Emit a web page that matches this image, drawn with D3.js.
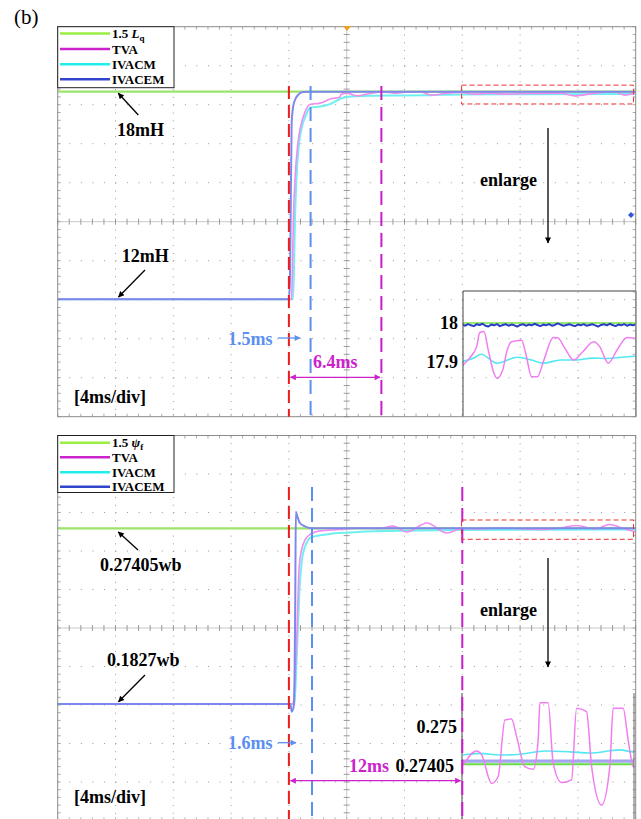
<!DOCTYPE html>
<html><head><meta charset="utf-8">
<script src="https://cdn.jsdelivr.net/npm/d3@7"></script>
<style>
body{margin:0;background:#fff}
svg{display:block}
text{font-family:"Liberation Serif","Times New Roman",serif}
</style>
</head><body><div id="chart"></div>
<script>
// ---------------- DATA ----------------
const legendNames = ["1.5 L", "TVA", "IVACM", "IVACEM"];
const timeDomain = [0, 40];            // ms, 4 ms/div
const eventTimes = {step: 16, topBlue: 17.5, topMag: 22.4, botBlue: 17.6, botMag: 28};

// top panel (inductance, mH)
const topLq = [[0,18],[40,18]];
const topIVACEM = [[0,12],[16.0,12],[16.07,12.56],[16.12,14.29],[16.19,17.09],[16.28,17.53],[16.42,17.76],[16.62,17.90],[16.97,17.99],[17.5,18.0],[40,18.0]];
const topTVA = [[0,12],[16.19,12],[16.24,12.85],[16.31,14.29],[16.42,15.45],[16.62,16.51],[16.83,17.03],[17.11,17.41],[17.45,17.63],[18.15,17.67],[18.49,17.72],[18.84,17.79],[19.53,17.84],[19.6,17.92],[20.01,17.96],[20.71,17.88],[21.60,17.95],[22.50,17.99],[23.34,17.96],[24.37,17.99],[25.07,18.0],[25.90,17.90],[26.80,17.95],[27.84,17.98],[28.87,17.93],[29.91,17.96],[30.95,17.93],[32.68,17.95],[34.76,17.96],[35.80,17.88],[37.17,17.96],[38.56,17.99],[39.25,17.90],[40,17.96]];
const topIVACM = [[0,12],[16.28,12],[16.35,12.85],[16.42,14.29],[16.52,15.45],[16.69,16.46],[16.90,16.98],[17.18,17.32],[17.45,17.53],[18.15,17.57],[18.84,17.64],[19.53,17.79],[20.01,17.85],[21.6,17.88],[23.7,17.89],[25.76,17.90],[27.97,17.92],[40,17.93]];
// top inset (enlarged)
const insTopLq = [[28,18.0],[40,18.0]];
const insTopTVA = [[28.0,17.89],[28.5,17.91],[29.0,17.94],[29.2,17.975],[29.5,17.978],[29.8,17.93],[30.2,17.87],[30.4,17.858],[30.8,17.88],[31.1,17.93],[31.4,17.952],[32.1,17.956],[32.4,17.92],[32.8,17.862],[33.2,17.862],[33.6,17.90],[34.3,17.963],[34.6,17.962],[35.1,17.935],[35.7,17.905],[36.3,17.925],[37.1,17.952],[37.5,17.94],[38.1,17.897],[38.7,17.93],[39.4,17.963],[40,17.96]];
const insTopIVACM = [[28.0,17.901],[28.8,17.91],[29.3,17.92],[30.4,17.897],[31.8,17.912],[32.8,17.905],[33.6,17.897],[34.8,17.905],[35.9,17.905],[37.0,17.91],[38.0,17.909],[39.0,17.912],[40,17.915]];
const insTopIVACEM = [[28.0,17.996],[28.2,17.993],[28.4,17.997],[28.6,17.994],[28.8,17.992],[29.0,17.997],[29.2,17.995],[29.4,17.998],[29.6,17.993],[29.8,17.991],[30.0,17.996],[30.2,17.994],[30.4,17.997],[30.6,17.992],[30.8,17.995],[31.0,17.997],[31.2,17.993],[31.4,17.996],[31.6,17.994],[31.8,17.991],[32.0,17.995],[32.2,17.997],[32.4,17.993],[32.6,17.996],[32.8,17.994],[33.0,17.998],[33.2,17.995],[33.4,17.992],[33.6,17.996],[33.8,17.994],[34.0,17.997],[34.2,17.993],[34.4,17.995],[34.6,17.999],[34.8,17.996],[35.0,17.993],[35.2,17.995],[35.4,17.997],[35.6,17.994],[35.8,17.992],[36.0,17.996],[36.2,17.994],[36.4,17.997],[36.6,17.993],[36.8,17.995],[37.0,17.997],[37.2,17.994],[37.4,17.991],[37.6,17.995],[37.8,17.997],[38.0,17.994],[38.2,17.998],[38.4,17.995],[38.6,17.992],[38.8,17.996],[39.0,17.994],[39.2,17.997],[39.4,17.993],[39.6,17.996],[39.8,17.994],[40.0,17.996]];

// bottom panel (flux linkage, wb)
const botPsi = [[0,0.27405],[40,0.27405]];
const botIVACEM = [[0,0.1827],[16.1,0.1827],[16.2,0.1787],[16.35,0.1822],[16.44,0.2372],[16.48,0.2827],[16.55,0.2810],[16.76,0.2768],[17.04,0.2753],[17.45,0.2742],[18.0,0.27405],[40,0.27405]];
const botTVA = [[0,0.1827],[16.28,0.1827],[16.38,0.1900],[16.48,0.2056],[16.57,0.2229],[16.71,0.2541],[16.88,0.2628],[17.11,0.2680],[17.52,0.2711],[18.15,0.2727],[19.53,0.2734],[20.91,0.2742],[22.30,0.2740],[23.20,0.2752],[24.17,0.2721],[25.55,0.2768],[26.93,0.2716],[27.97,0.2740],[29.2,0.2737],[30.6,0.2742],[33.4,0.2734],[34.8,0.2742],[35.9,0.2755],[37.2,0.2737],[38.2,0.2760],[39.25,0.2737],[40,0.2721]];
const botIVACM = [[0,0.1827],[16.38,0.1827],[16.48,0.1951],[16.59,0.2159],[16.73,0.2419],[16.90,0.2575],[17.11,0.2643],[17.57,0.2695],[18.84,0.2711],[19.99,0.2718],[22.5,0.2727],[25.07,0.2729],[27.97,0.2732],[40,0.2734]];
// bottom inset (enlarged)
const insBotPsi = [[28,0.27405],[40,0.27405]];
const insBotIVACEM = [[28,0.27413],[40,0.27413]];
const insBotTVA = [[28.06,0.27403],[28.99,0.27439],[29.34,0.27429],[30.03,0.27356],[30.48,0.27373],[30.95,0.27519],[31.41,0.27521],[31.76,0.27476],[32.33,0.27399],[32.91,0.27392],[33.25,0.27467],[33.37,0.27563],[33.94,0.27563],[34.29,0.27408],[34.87,0.27358],[35.56,0.27365],[35.91,0.27549],[36.60,0.27540],[36.95,0.27399],[37.64,0.27300],[38.21,0.27399],[38.44,0.27549],[39.13,0.27549],[39.48,0.27467],[39.83,0.27399],[40,0.27395]];
const insBotIVACM = [[28.04,0.27429],[29.21,0.27433],[30.60,0.27429],[31.99,0.27431],[33.71,0.27439],[35.44,0.27437],[36.83,0.27434],[38.91,0.27442],[39.81,0.27437],[40,0.27437]];

// ---------------- DRAW ----------------
const W = 641, H = 819;
const svg = d3.select("#chart").append("svg").attr("width", W).attr("height", H);
const defs = svg.append("defs");
function marker(id, color){
  defs.append("marker").attr("id", id).attr("viewBox","0 0 10 10").attr("refX",9).attr("refY",5)
    .attr("markerWidth",8).attr("markerHeight",6).attr("markerUnits","userSpaceOnUse")
    .attr("orient","auto-start-reverse")
    .append("path").attr("d","M0,0 L10,5 L0,10 Z").attr("fill", color);
}
marker("arK","#000"); marker("arB","#5b8ff0"); marker("arM","#cc22cc");

const x = d3.scaleLinear().domain(timeDomain).range([57.7, 635.7]);
const COL = {green:"#9be36b", tva:"#f08cf0", ivacm:"#6ff0f0", ivacem:"#7d88ea"};
const LEG = {green:"#99ee44", tva:"#cc22cc", ivacm:"#22eeee", ivacem:"#3344cc"};

function grid(g, L, T, R, B){
  const dx = (R-L)/10, dy = (B-T)/10;
  for(let i=1;i<10;i++){
    if(i===5) continue;
    g.append("line").attr("x1",L+i*dx).attr("x2",L+i*dx).attr("y1",T).attr("y2",B)
      .attr("stroke","#9a9a9a").attr("stroke-width",1).attr("stroke-dasharray",`1 ${dy/5-1}`);
    g.append("line").attr("y1",T+i*dy).attr("y2",T+i*dy).attr("x1",L).attr("x2",R)
      .attr("stroke","#9a9a9a").attr("stroke-width",1).attr("stroke-dasharray",`1 ${dx/5-1}`);
  }
  const cx = L+5*dx, cy = T+5*dy;
  g.append("line").attr("x1",cx).attr("x2",cx).attr("y1",T).attr("y2",B).attr("stroke","#c8c8c8");
  g.append("line").attr("x1",L).attr("x2",R).attr("y1",cy).attr("y2",cy).attr("stroke","#c8c8c8");
  for(let k=0;k<=50;k++){
    const yy = T+k*dy/5, xx = L+k*dx/5;
    g.append("line").attr("x1",cx-3).attr("x2",cx+3).attr("y1",yy).attr("y2",yy).attr("stroke","#999");
    g.append("line").attr("x1",xx).attr("x2",xx).attr("y1",cy-3).attr("y2",cy+3).attr("stroke","#999");
    g.append("line").attr("x1",L).attr("x2",L+3).attr("y1",yy).attr("y2",yy).attr("stroke","#aaa");
    g.append("line").attr("x1",R-3).attr("x2",R).attr("y1",yy).attr("y2",yy).attr("stroke","#aaa");
    g.append("line").attr("x1",xx).attr("x2",xx).attr("y1",T).attr("y2",T+3).attr("stroke","#aaa");
    g.append("line").attr("x1",xx).attr("x2",xx).attr("y1",B-3).attr("y2",B).attr("stroke","#aaa");
  }
}

function clip(id, x0, y0, w, h){
  defs.append("clipPath").attr("id", id).append("rect").attr("x",x0).attr("y",y0).attr("width",w).attr("height",h);
  return `url(#${id})`;
}

function drawLine(g, data, y, color, width, curve){
  g.append("path").datum(data)
    .attr("d", d3.line().x(d=>x(d[0])).y(d=>y(d[1])).curve(curve || d3.curveMonotoneX))
    .attr("fill","none").attr("stroke",color).attr("stroke-width",width)
    .attr("stroke-linejoin","round");
}

function txt(t, xx, yy, opt={}){
  const e = svg.append("text").attr("x",xx).attr("y",yy).text(t)
    .attr("font-size", opt.size||18).attr("font-weight", opt.weight||"bold")
    .attr("fill", opt.color||"#000");
  if(opt.anchor) e.attr("text-anchor", opt.anchor);
  return e;
}
function arrow(x1,y1,x2,y2,color,mk,both){
  const l = svg.append("line").attr("x1",x1).attr("y1",y1).attr("x2",x2).attr("y2",y2)
    .attr("stroke",color).attr("stroke-width",1.3).attr("marker-end",`url(#${mk})`);
  if(both) l.attr("marker-start",`url(#${mk})`);
}

function panel(cfg){
  const L = 57.7, R = 635.7, T = cfg.top, B = cfg.bottom;
  const g = svg.append("g");
  g.append("rect").attr("x",L).attr("y",T).attr("width",R-L).attr("height",B-T).attr("fill","#fff");
  grid(g, L, T, R, B);
  const lines = g.append("g").attr("clip-path", clip(cfg.id+"c", L, T, R-L, B-T));
  drawLine(lines, cfg.green, cfg.y, COL.green, 2.2, d3.curveLinear);
  drawLine(lines, cfg.ivacm, cfg.y, COL.ivacm, 2);
  drawLine(lines, cfg.tva, cfg.y, COL.tva, 1.6);
  drawLine(lines, cfg.ivacem, cfg.y, COL.ivacem, 2);

  // inset
  const I = cfg.inset;
  const ig = g.append("g").attr("clip-path", clip(cfg.id+"i", I.x0, I.y0, I.x1-I.x0, I.y1-I.y0));
  ig.append("rect").attr("x",I.x0).attr("y",I.y0).attr("width",I.x1-I.x0).attr("height",I.y1-I.y0).attr("fill","#fff");
  grid(ig, L, T, R, B);
  drawLine(ig, I.green, I.y, I.greenCol, 2, d3.curveLinear);
  drawLine(ig, I.ivacm, I.y, "#55e8f2", 1.6);
  drawLine(ig, I.ivacem, I.y, I.blueCol, I.blueW, d3.curveLinear);
  drawLine(ig, I.tva, I.y, "#f07ef0", 1.5);
  g.append("line").attr("x1",I.x0).attr("x2",I.x0).attr("y1",I.y0).attr("y2",I.y1).attr("stroke","#444");
  g.append("line").attr("x1",I.x1).attr("x2",I.x1).attr("y1",I.y0).attr("y2",I.y1).attr("stroke","#666");
  if(I.topBorder) g.append("line").attr("x1",I.x0).attr("x2",I.x1).attr("y1",I.y0).attr("y2",I.y0).attr("stroke","#444");

  // frame
  g.append("rect").attr("x",L).attr("y",T).attr("width",R-L).attr("height",B-T)
    .attr("fill","none").attr("stroke","#8a8a8a");

  // dashed markers
  const dv = (t, color, dash) => g.append("line").attr("x1",x(t)).attr("x2",x(t))
    .attr("y1",cfg.dashTop).attr("y2",Math.min(B,H)).attr("stroke",color).attr("stroke-width",2)
    .attr("stroke-dasharray",dash);
  dv(cfg.tRed, "#ee1c1c", "13 6");
  dv(cfg.tBlue, "#5b8ff0", "14 7");
  dv(cfg.tMag, "#c81ec8", "14 7");

  // red dashed box
  const bx = cfg.box;
  g.append("rect").attr("x",x(bx[0])).attr("y",cfg.y(bx[2])).attr("width",x(bx[1])-x(bx[0]))
    .attr("height",cfg.y(bx[3])-cfg.y(bx[2])).attr("fill","none").attr("stroke","#ee3030")
    .attr("stroke-width",1).attr("stroke-dasharray","5 3");

  // legend
  const lg = cfg.legend;
  g.append("rect").attr("x",L).attr("y",T).attr("width",116.3).attr("height",lg.h)
    .attr("fill","#fff").attr("stroke","#222").attr("stroke-width",1);
  const lc = [LEG.green, LEG.tva, LEG.ivacm, LEG.ivacem];
  lg.rows.forEach((ry,i)=>{
    g.append("line").attr("x1",60).attr("x2",110).attr("y1",ry).attr("y2",ry).attr("stroke",lc[i]).attr("stroke-width",2.4);
    const t = g.append("text").attr("x",112).attr("y",ry+4.5).attr("font-size",13).attr("font-weight","bold");
    if(i===0){
      t.append("tspan").text("1.5 ");
      t.append("tspan").text(lg.sym).attr("font-style","italic");
      t.append("tspan").text(lg.sub).attr("font-size",9).attr("dy",3);
    } else t.text(legendNames[i]);
  });
}

// (b)
txt("(b)", 14, 24, {size:21, weight:"normal"});

// ---------- top panel ----------
const yTop = d3.scaleLinear().domain([12,18]).range([299.3,91.7]);
const yTopIns = d3.scaleLinear().domain([17.9,18]).range([362,323]);
panel({id:"p1", top:26.7, bottom:416.7, y:yTop,
  green:topLq, tva:topTVA, ivacm:topIVACM, ivacem:topIVACEM,
  tRed:eventTimes.step, tBlue:eventTimes.topBlue, tMag:eventTimes.topMag, dashTop:86,
  box:[27.95,39.85,18.19,17.645],
  legend:{h:61, rows:[33.5,49,64.3,79.3], sym:"L", sub:"q"},
  inset:{x0:463, x1:636, y0:291, y1:416.7, y:yTopIns, green:insTopLq, tva:insTopTVA, ivacm:insTopIVACM,
    ivacem:insTopIVACEM, greenCol:"#9be870", blueCol:"#2a3ec4", blueW:2, topBorder:true}
});
// orange / blue scope markers
svg.append("path").attr("d","M343,26 L351,26 L347,31 Z").attr("fill","#f0a020");
svg.append("path").attr("d","M631,212 L634,215 L631,218 L628,215 Z").attr("fill","#3355dd");

txt("18mH", 117, 136);
arrow(138.3,115,118.3,93.3,"#000","arK");
txt("12mH", 121.7, 261.7);
arrow(145,270,118.5,297,"#000","arK");
txt("1.5ms", 228, 345, {color:"#5b8ff0"});
arrow(278,338,300,338,"#5b8ff0","arB");
txt("6.4ms", 313, 368.3, {color:"#cc22cc"});
arrow(290.5,377.3,380,377.3,"#cc22cc","arM",true);
txt("[4ms/div]", 74, 403);
txt("enlarge", 480, 186);
arrow(548,128,548,243,"#000","arK");
txt("18", 458, 329, {anchor:"end"});
txt("17.9", 458, 368, {anchor:"end"});

// ---------- bottom panel ----------
const yBot = d3.scaleLinear().domain([0.1827,0.27405]).range([704,528.3]);
const yBotIns = d3.scaleLinear().domain([0.27405,0.275]).range([764.3,727.3]);
panel({id:"p2", top:435.5, bottom:820.5, y:yBot,
  green:botPsi, tva:botTVA, ivacm:botIVACM, ivacem:botIVACEM,
  tRed:eventTimes.step, tBlue:eventTimes.botBlue, tMag:eventTimes.botMag, dashTop:487,
  box:[27.95,39.85,0.27837,0.26833],
  legend:{h:57, rows:[442.7,457.3,472.3,486.7], sym:"\u03C8", sub:"f"},
  inset:{x0:462, x1:634, y0:693, y1:820, y:yBotIns, green:insBotPsi, tva:insBotTVA, ivacm:insBotIVACM,
    ivacem:insBotIVACEM, greenCol:"#66dd44", blueCol:"#a3a6ee", blueW:3.2, topBorder:false}
});

txt("0.27405wb", 100, 571);
arrow(138,550,118.3,532,"#000","arK");
txt("0.1827wb", 107, 666);
arrow(145,675,118.5,701.7,"#000","arK");
txt("1.6ms", 228, 749, {color:"#5b8ff0"});
arrow(278,742.7,296,742.7,"#5b8ff0","arB");
txt("12ms", 349, 772, {color:"#cc22cc"});
txt("0.27405", 454, 772, {anchor:"end"});
arrow(290.5,780.7,460.5,780.7,"#cc22cc","arM",true);
txt("[4ms/div]", 74, 803);
txt("enlarge", 480, 616);
arrow(548,558,548,667,"#000","arK");
txt("0.275", 457, 733, {anchor:"end"});
</script>
</body></html>
